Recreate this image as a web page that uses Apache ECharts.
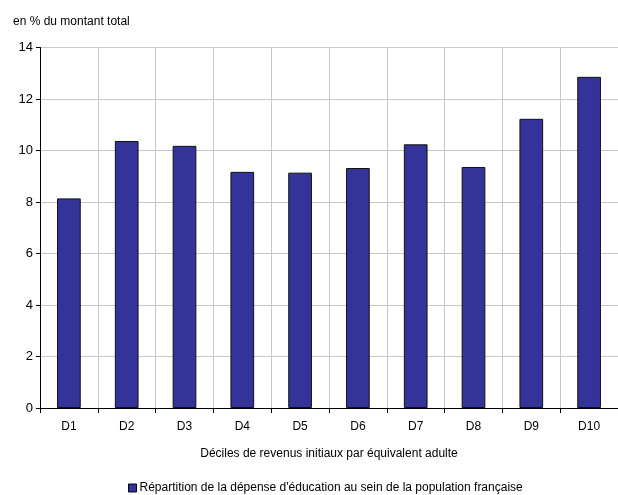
<!DOCTYPE html>
<html>
<head>
<meta charset="utf-8">
<script src="https://cdn.jsdelivr.net/npm/echarts@6/dist/echarts.min.js"></script>
<style>
  html, body { margin: 0; padding: 0; background: #fff; }
  #chart { width: 618px; height: 495px; }
</style>
</head>
<body>
<div id="chart"></div>
<script>
// Déciles de revenus initiaux par équivalent adulte
const categories = ['D1', 'D2', 'D3', 'D4', 'D5', 'D6', 'D7', 'D8', 'D9', 'D10'];
// Part de la dépense d'éducation (en % du montant total)
const values = [8.14, 10.37, 10.18, 9.17, 9.14, 9.32, 10.24, 9.36, 11.23, 12.86];
const yTicks = { min: 0, max: 14, interval: 2 };
const seriesName = "Répartition de la dépense d'éducation au sein de la population française";
const yUnitLabel = 'en % du montant total';
const xAxisTitle = 'Déciles de revenus initiaux par équivalent adulte';

const font = 'Liberation Sans, Arial, sans-serif';
const chart = echarts.init(document.getElementById('chart'), null, { renderer: 'canvas' });

chart.setOption({
  animation: false,
  backgroundColor: '#ffffff',
  title: {
    text: yUnitLabel,
    left: 8,
    top: 11,
    textStyle: { fontFamily: font, fontSize: 12, fontWeight: 'normal', color: '#000' }
  },
  grid: { left: 40, top: 47.5, width: 580, height: 360.5, containLabel: false },
  legend: {
    top: 482,
    left: 128,
    padding: 0,
    itemWidth: 8,
    itemHeight: 8,
    itemGap: 4,
    textStyle: { fontFamily: font, fontSize: 12, color: '#000', padding: [0, 0, 0, -2] },
    data: [{ name: seriesName, icon: 'rect', itemStyle: { borderColor: '#000', borderWidth: 1 } }]
  },
  xAxis: {
    type: 'category',
    data: categories,
    name: xAxisTitle,
    nameLocation: 'middle',
    nameGap: 40,
    nameTextStyle: { fontFamily: font, fontSize: 12, color: '#000' },
    axisLine: { lineStyle: { color: '#000', width: 1 } },
    axisTick: { show: true, alignWithLabel: false, length: 5, lineStyle: { color: '#000' } },
    axisLabel: { fontFamily: font, fontSize: 12, color: '#000', margin: 13, interval: 0 },
    splitLine: { show: true, interval: 0, lineStyle: { color: '#c8c8c8', width: 1 } }
  },
  yAxis: {
    type: 'value',
    min: yTicks.min,
    max: yTicks.max,
    interval: yTicks.interval,
    axisLine: { show: true, lineStyle: { color: '#000', width: 1 } },
    axisTick: { show: true, length: 4, lineStyle: { color: '#000' } },
    axisLabel: { fontFamily: font, fontSize: 13, color: '#000', margin: 7 },
    splitLine: { show: true, lineStyle: { color: '#c8c8c8', width: 1 } }
  },
  series: [{
    name: seriesName,
    type: 'bar',
    data: values,
    barWidth: '41%',
    itemStyle: { color: '#333399', borderColor: '#111', borderWidth: 1 }
  }]
});
</script>
</body>
</html>
